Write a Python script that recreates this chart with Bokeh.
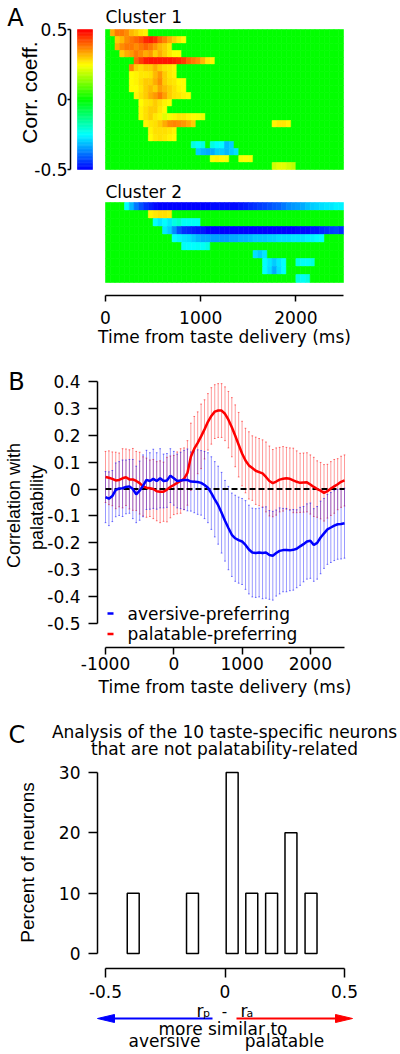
import colorsys
import numpy as np
from bokeh.plotting import figure
from bokeh.layouts import column
from bokeh.models import (Range1d, LinearAxis, FixedTicker, Label, ColumnDataSource,
                          CustomJSTickFormatter)
from bokeh.transform import linear_cmap
from bokeh.embed import file_html
from bokeh.resources import INLINE

# ============================ DATA ============================
# ---- Panel A: correlation-coefficient heat maps (50-ms bins, 0..2500 ms)
HM_T_START, HM_T_END, HM_BIN = 0, 2500, 50
HM_TICKS = [0, 1000, 2000]
CB_TICKS = [-0.5, 0, 0.5]
CLUSTER_TITLES = ["Cluster 1", "Cluster 2"]
# each row: list of (first bin index, [values of consecutive bins]); other bins = 0
cluster1_rows = [
    [(1, [0.33, 0.38, 0.38, 0.36, 0.32, 0.30, 0.27, 0.26])],
    [(2, [0.30, 0.32, 0.36, 0.38, 0.40, 0.42, 0.46, 0.47, 0.45, 0.40, 0.37, 0.33, 0.30, 0.27, 0.25])],
    [(2, [0.33, 0.36, 0.38, 0.38, 0.36, 0.38, 0.40, 0.38, 0.35, 0.32, 0.30, 0.27])],
    [(3, [0.30, 0.33, 0.35, 0.38, 0.36, 0.33, 0.35, 0.30, 0.33, 0.30, 0.27, 0.25, 0.25])],
    [(6, [0.40, 0.44, 0.47, 0.48, 0.48, 0.48, 0.48, 0.48, 0.47, 0.46, 0.44, 0.40, 0.38, 0.36, 0.32, 0.27, 0.26])],
    [(5, [0.37, 0.30, 0.28, 0.30, 0.30, 0.33, 0.30, 0.28, 0.27, 0.26])],
    [(5, [0.25, 0.26, 0.27, 0.27, 0.28, 0.32, 0.35, 0.30, 0.27, 0.26])],
    [(5, [0.25, 0.26, 0.28, 0.30, 0.30, 0.33, 0.36, 0.30, 0.28, 0.27, 0.25, 0.25])],
    [(5, [0.25, 0.25, 0.27, 0.30, 0.32, 0.30, 0.34, 0.32, 0.30, 0.28, 0.26, 0.25])],
    [(6, [0.26, 0.28, 0.30, 0.33, 0.35, 0.38, 0.34, 0.30, 0.28, 0.27, 0.26, 0.25])],
    [(7, [0.25, 0.27, 0.28, 0.30, 0.28, 0.26, 0.25])],
    [(7, [0.26, 0.28, 0.30, 0.30, 0.27, 0.25])],
    [(7, [0.26, 0.28, 0.30, 0.27, 0.26, 0.22, 0.24, 0.26, 0.27, 0.27, 0.26, 0.25, 0.24, 0.23])],
    [(8, [0.26, 0.27, 0.28, 0.30, 0.33, 0.36, 0.37, 0.36, 0.35, 0.33, 0.30]),
     (35, [0.26, 0.27, 0.27, 0.26])],
    [(9, [0.26, 0.28, 0.28, 0.28, 0.27, 0.26])],
    [(9, [0.25, 0.27, 0.28, 0.27, 0.26, 0.25])],
    [(18, [-0.22, -0.25, -0.22]), (22, [-0.22, -0.25, -0.25, -0.32, -0.30])],
    [(19, [-0.30, -0.32, -0.33, -0.33, -0.30, -0.30, -0.32, -0.30, -0.28])],
    [(22, [0.24, 0.26, 0.25, 0.24]), (28, [0.24, 0.25, 0.24])],
    [(35, [0.20, 0.22, 0.22, 0.20, 0.18])],
]
cluster2_rows = [
    [(4, [-0.25, -0.32, -0.38, -0.42, -0.45, -0.47,
          -0.49, -0.50, -0.50, -0.50, -0.50, -0.50, -0.50, -0.50, -0.50, -0.50,
          -0.50, -0.50, -0.49, -0.49, -0.49, -0.49, -0.49, -0.49, -0.48,
          -0.47, -0.46, -0.45, -0.44, -0.43, -0.42, -0.41, -0.40,
          -0.38, -0.36, -0.35, -0.34, -0.33,
          -0.31, -0.30, -0.29, -0.28, -0.27, -0.27, -0.26, -0.26])],
    [(9, [0.26, 0.27, 0.28, 0.28, 0.27])],
    [(10, [-0.25, -0.27, -0.25, -0.27, -0.22, -0.20, -0.24, -0.24, -0.24, -0.24])],
    [(12, [-0.27, -0.30, -0.36, -0.42, -0.45, -0.46, -0.47, -0.48, -0.48,
           -0.50, -0.50, -0.50, -0.50, -0.50, -0.50, -0.50, -0.50, -0.50, -0.50, -0.50, -0.50,
           -0.50, -0.50, -0.50, -0.50, -0.50, -0.50, -0.50, -0.49, -0.49, -0.49, -0.48, -0.48,
           -0.46, -0.45, -0.44, -0.43, -0.45])],
    [(14, [-0.25, -0.26, -0.27, -0.28, -0.30,
           -0.32, -0.33, -0.33, -0.34, -0.34, -0.34, -0.34, -0.33, -0.33, -0.32, -0.32,
           -0.31, -0.30, -0.30, -0.30, -0.29, -0.29, -0.28, -0.28, -0.28, -0.27, -0.27,
           -0.27, -0.26, -0.26, -0.25, -0.25])],
    [(16, [-0.24, -0.25, -0.25, -0.24, -0.24, -0.22])],
    [(31, [-0.28, -0.30, -0.27])],
    [(33, [-0.25, -0.27, -0.30, -0.27, -0.25]), (40, [-0.22, -0.24, -0.24, -0.22])],
    [(33, [-0.25, -0.28, -0.33, -0.28, -0.25])],
    [(40, [-0.22, -0.24, -0.22])],
]

# ---- Panel B: population correlation with palatability (mean +/- error)
b_times = list(range(-1000, 2501, 50))
palatable_mean = [
    0.045, 0.042, 0.038, 0.032, 0.034, 0.040, 0.044, 0.036, 0.036, 0.030,
    0.022, 0.010, 0.005, 0.003, 0.000, -0.008, -0.010, -0.010, -0.002, 0.008,
    0.015, 0.023, 0.030, 0.038, 0.060, 0.120, 0.150, 0.172, 0.196, 0.222,
    0.250, 0.272, 0.288, 0.292, 0.292, 0.280, 0.258, 0.230, 0.198, 0.165,
    0.132, 0.106, 0.088, 0.078, 0.068, 0.063, 0.058, 0.045, 0.030, 0.022,
    0.028, 0.035, 0.038, 0.040, 0.038, 0.032, 0.027, 0.023, 0.024, 0.025,
    0.017, 0.008, 0.000, -0.006, -0.014, -0.008, 0.002, 0.010, 0.018, 0.027,
    0.032]
palatable_err = [
    0.095, 0.10, 0.10, 0.105, 0.10, 0.11, 0.105,
    0.11, 0.115, 0.11, 0.115, 0.11, 0.11, 0.105, 0.11,
    0.11, 0.115, 0.11, 0.12, 0.115, 0.11,
    0.115, 0.12, 0.115, 0.12, 0.125, 0.12, 0.115, 0.12,
    0.11, 0.105, 0.105, 0.10, 0.10, 0.10, 0.10, 0.105,
    0.11, 0.115, 0.12, 0.12, 0.12, 0.125, 0.12, 0.125,
    0.125, 0.125, 0.13, 0.13, 0.125, 0.125, 0.12, 0.12,
    0.115, 0.115, 0.12, 0.115, 0.11, 0.11, 0.11, 0.11,
    0.11, 0.105, 0.105, 0.105, 0.10, 0.10, 0.10, 0.095, 0.095, 0.095]
aversive_mean = [
    -0.030, -0.036, -0.026, -0.003, 0.002, 0.003, 0.008, 0.010, 0.000, -0.020,
    -0.006, 0.012, 0.034, 0.030, 0.038, 0.030, 0.040, 0.030, 0.032, 0.050,
    0.040, 0.030, 0.032, 0.034, 0.034, 0.028, 0.027, 0.026, 0.023, 0.015,
    0.005, -0.015, -0.038, -0.060, -0.088, -0.118, -0.145, -0.170, -0.183, -0.190,
    -0.195, -0.208, -0.225, -0.236, -0.238, -0.236, -0.238, -0.236, -0.245, -0.248,
    -0.238, -0.230, -0.227, -0.227, -0.228, -0.226, -0.222, -0.213, -0.205, -0.195,
    -0.192, -0.208, -0.200, -0.180, -0.165, -0.150, -0.143, -0.136, -0.131, -0.130,
    -0.127]
aversive_err = [
    0.095, 0.10, 0.095, 0.10, 0.10, 0.105, 0.10,
    0.10, 0.11, 0.105, 0.11, 0.115, 0.11, 0.105, 0.11,
    0.105, 0.11, 0.10, 0.10, 0.10, 0.10,
    0.10, 0.105, 0.11, 0.115, 0.11, 0.115, 0.12, 0.12,
    0.125, 0.13, 0.135, 0.14, 0.145, 0.15, 0.15, 0.155,
    0.155, 0.16, 0.16, 0.16, 0.165, 0.165, 0.165, 0.165,
    0.165, 0.17, 0.17, 0.165, 0.165, 0.16, 0.16, 0.155,
    0.155, 0.15, 0.15, 0.145, 0.145, 0.14, 0.14, 0.14,
    0.135, 0.135, 0.135, 0.13, 0.13, 0.13, 0.13, 0.13, 0.13, 0.13]
B_X_TICKS = [-1000, 0, 1000, 2000]
B_Y_TICKS = [-0.5, -0.4, -0.3, -0.2, -0.1, 0, 0.1, 0.2, 0.3, 0.4]
B_X_BOUNDS = (-1000, 2500)
B_Y_BOUNDS = (-0.5, 0.4)
LEGEND_LABELS = ["aversive-preferring", "palatable-preferring"]

# ---- Panel C: histogram of r_p - r_a for 10 non-palatability neurons
c_bin_centers = [-0.384, -0.136, 0.030, 0.112, 0.195, 0.276, 0.360]
c_percent = [10, 10, 30, 10, 10, 20, 10]
C_BAR_WIDTH = 0.05
C_X_TICKS = [-0.5, 0, 0.5]
C_Y_TICKS = [0, 10, 20, 30]
C_TITLE = ["Analysis of the 10 taste-specific neurons",
           "that are not palatability-related"]

# ============================ STYLE / LAYOUT ============================
FONT_H = "DejaVu Sans"
FONT_V = "Liberation Sans"
RED = "#ff0000"
BLUE = "#0000ff"
W = 400

# hue ramp red (high) -> yellow -> green -> cyan -> blue (low)
PALETTE = []
for i in range(256):
    t = i / 255.0
    r, g, b = colorsys.hsv_to_rgb((240.0 - 240.0 * t) / 360.0, 1.0, 1.0)
    PALETTE.append("#%02x%02x%02x" % (int(round(r * 255)), int(round(g * 255)), int(round(b * 255))))

FMT = "return String(tick);"


def style_axis(ax, tick_out, standoff):
    ax.axis_line_width = 1.5
    ax.axis_line_color = "black"
    ax.major_tick_line_width = 1.5
    ax.major_tick_line_color = "black"
    ax.major_tick_in = 0
    ax.major_tick_out = tick_out
    ax.minor_tick_line_color = None
    ax.major_label_standoff = standoff
    ax.major_label_text_font = FONT_H
    ax.major_label_text_font_size = "17px"
    ax.major_label_text_color = "black"
    ax.axis_label_text_font = FONT_H
    ax.axis_label_text_font_size = "17px"
    ax.axis_label_text_font_style = "normal"
    ax.axis_label_text_color = "black"
    ax.formatter = CustomJSTickFormatter(code=FMT)


def base_fig(height, xr, yr, **kw):
    # the frame fills the whole canvas; axes are drawn at fixed locations inside it
    p = figure(width=W, height=height, x_range=xr, y_range=yr,
               output_backend="svg", toolbar_location=None, title=None,
               min_border=0, min_border_left=0, min_border_right=0,
               min_border_top=0, min_border_bottom=0, **kw)
    p.outline_line_color = None
    p.background_fill_color = "white"
    p.border_fill_color = "white"
    p.grid.grid_line_color = None
    try:
        p.frame_align = False
    except Exception:
        pass
    return p


def add_text(p, x, y, text, size="17px", font=FONT_H, align="left",
             baseline="middle", angle=0.0, **kw):
    p.add_layout(Label(x=x, y=y, text=text, text_font=font, text_font_size=size,
                       text_align=align, text_baseline=baseline, angle=angle,
                       text_color="black", **kw))


# ---------------------------- Panel A ----------------------------
A_Y0, A_H = 0, 350
HM_X0, HM_X1 = 105, 343          # pixel columns of 0 ms and 2500 ms
A_AXIS_Y = 295                   # pixel row of the time axis
C_ROWS_PX = [(29, 169), (202, 282)]
CB_L, CB_R, CB_T, CB_B = 77, 92, 29, 169
CB_AXIS_X = 70


def xa(px):
    return HM_T_START + (px - HM_X0) * (HM_T_END - HM_T_START) / (HM_X1 - HM_X0)


def ya(py):
    return -py


def ycb(py):
    return CB_TICKS[-1] - (py - CB_T) * (CB_TICKS[-1] - CB_TICKS[0]) / (CB_B - CB_T)


pA = base_fig(A_H, Range1d(xa(0), xa(W)), Range1d(ya(A_Y0 + A_H), ya(A_Y0)), y_axis_type=None)
pA.extra_y_ranges = {"cb": Range1d(ycb(A_Y0 + A_H), ycb(A_Y0))}

n_bins = (HM_T_END - HM_T_START) // HM_BIN
cells = dict(left=[], right=[], top=[], bottom=[], v=[])
for rows, (ptop, pbot) in zip([cluster1_rows, cluster2_rows], C_ROWS_PX):
    rh = (pbot - ptop) / len(rows)
    for r, segs in enumerate(rows):
        vals = np.zeros(n_bins)
        for c0, seg in segs:
            vals[c0:c0 + len(seg)] = seg
        for c in range(n_bins):
            cells["left"].append(HM_T_START + c * HM_BIN)
            cells["right"].append(HM_T_START + (c + 1) * HM_BIN)
            cells["top"].append(ya(ptop + r * rh))
            cells["bottom"].append(ya(ptop + (r + 1) * rh))
            cells["v"].append(float(vals[c]))
cmap = linear_cmap("v", PALETTE, CB_TICKS[0], CB_TICKS[-1])
pA.quad(left="left", right="right", top="top", bottom="bottom", source=ColumnDataSource(cells),
        fill_color=cmap, line_color=cmap, line_width=0.6)

# colour bar
cb_edges = np.linspace(CB_TICKS[0], CB_TICKS[-1], 101)
cb_src = ColumnDataSource(dict(bottom=cb_edges[:-1], top=cb_edges[1:],
                               v=(cb_edges[:-1] + cb_edges[1:]) / 2))
pA.quad(left=xa(CB_L), right=xa(CB_R), bottom="bottom", top="top", source=cb_src,
        fill_color=cmap, line_color=cmap, line_width=0.6, y_range_name="cb")
cb_axis = LinearAxis(y_range_name="cb", bounds=(CB_TICKS[0], CB_TICKS[-1]),
                     ticker=FixedTicker(ticks=CB_TICKS), fixed_location=xa(CB_AXIS_X))
style_axis(cb_axis, 3, 0)
pA.add_layout(cb_axis, "left")

style_axis(pA.xaxis[0], 6, 9)
pA.xaxis.fixed_location = ya(A_AXIS_Y)
pA.xaxis.bounds = (HM_T_START, HM_T_END)
pA.xaxis.ticker = FixedTicker(ticks=HM_TICKS)
pA.xaxis.axis_label = "Time from taste delivery (ms)"
pA.xaxis.axis_label_standoff = 0

add_text(pA, HM_T_START, ya(16), CLUSTER_TITLES[0])
add_text(pA, HM_T_START, ya(191), CLUSTER_TITLES[1])
add_text(pA, xa(15), ya(17), "A", size="24px", align="center")
add_text(pA, xa(29), ya(92), "Corr. coeff.", size="21px", font=FONT_V,
         align="center", angle=np.pi / 2)

# ---------------------------- Panel B ----------------------------
B_Y0, B_H = A_Y0 + A_H, 350
BX0, BX1 = 105, 344              # pixel columns of -1000 and 2500 ms
BY_TOP, BY_BOT = 381, 623        # pixel rows of 0.4 and -0.5
B_AXIS_X, B_AXIS_Y = 97, 647


def xb(px):
    return B_X_BOUNDS[0] + (px - BX0) * (B_X_BOUNDS[1] - B_X_BOUNDS[0]) / (BX1 - BX0)


def yb(py):
    return B_Y_BOUNDS[1] - (py - BY_TOP) * (B_Y_BOUNDS[1] - B_Y_BOUNDS[0]) / (BY_BOT - BY_TOP)


pB = base_fig(B_H, Range1d(xb(0), xb(W)), Range1d(yb(B_Y0 + B_H), yb(B_Y0)))
style_axis(pB.xaxis[0], 7, 2)
style_axis(pB.yaxis[0], 9, 8)
pB.xaxis.fixed_location = yb(B_AXIS_Y)
pB.yaxis.fixed_location = xb(B_AXIS_X)
pB.xaxis.bounds = B_X_BOUNDS
pB.yaxis.bounds = B_Y_BOUNDS
pB.xaxis.ticker = FixedTicker(ticks=B_X_TICKS)
pB.yaxis.ticker = FixedTicker(ticks=B_Y_TICKS)
pB.xaxis.axis_label = "Time from taste delivery (ms)"
pB.xaxis.axis_label_standoff = 4

pm, pe = np.array(palatable_mean), np.array(palatable_err)
am, ae = np.array(aversive_mean), np.array(aversive_err)
bt = np.array(b_times, dtype=float)
CAP = 12  # half cap width in ms
for m, e, col in [(pm, pe, RED), (am, ae, BLUE)]:
    pB.segment(x0=bt, x1=bt, y0=m - e, y1=m + e, line_color=col, line_alpha=0.4, line_width=1)
    for yy in (m - e, m + e):
        pB.segment(x0=bt - CAP, x1=bt + CAP, y0=yy, y1=yy, line_color=col,
                   line_alpha=0.55, line_width=1)
pB.line(x=list(B_X_BOUNDS), y=[0, 0], line_color="black", line_width=2, line_dash="6 3")
pB.line(x=b_times, y=palatable_mean, line_color=RED, line_width=2.5)
pB.line(x=b_times, y=aversive_mean, line_color=BLUE, line_width=2.5)

# legend
for lab, col, py in zip(LEGEND_LABELS, [BLUE, RED], [613, 633.5]):
    pB.line(x=[xb(107), xb(113)], y=[yb(py), yb(py)], line_color=col, line_width=2.5)
    add_text(pB, xb(127), yb(py), lab)

add_text(pB, xb(16), yb(381.5), "B", size="24px", align="center")
add_text(pB, xb(13), yb(505), "Correlation with", size="18px", font=FONT_V,
         align="center", angle=np.pi / 2)
add_text(pB, xb(36), yb(507), "palatability", size="18px", font=FONT_V,
         align="center", angle=np.pi / 2)

# ---------------------------- Panel C ----------------------------
C_Y0, C_H = B_Y0 + B_H, 352
CX0, CX1 = 105, 344              # pixel columns of -0.5 and 0.5
CY0, CY30 = 953, 772             # pixel rows of 0 % and 30 %
C_AXIS_X, C_AXIS_Y = 97, 968


def xc(px):
    return C_X_TICKS[0] + (px - CX0) * (C_X_TICKS[-1] - C_X_TICKS[0]) / (CX1 - CX0)


def yc(py):
    return C_Y_TICKS[0] + (CY0 - py) * (C_Y_TICKS[-1] - C_Y_TICKS[0]) / (CY0 - CY30)


pC = base_fig(C_H, Range1d(xc(0), xc(W)), Range1d(yc(C_Y0 + C_H), yc(C_Y0)))
style_axis(pC.xaxis[0], 9, 7)
style_axis(pC.yaxis[0], 9, 8)
pC.xaxis.fixed_location = yc(C_AXIS_Y)
pC.yaxis.fixed_location = xc(C_AXIS_X)
pC.xaxis.bounds = (C_X_TICKS[0], C_X_TICKS[-1])
pC.yaxis.bounds = (C_Y_TICKS[0], C_Y_TICKS[-1])
pC.xaxis.ticker = FixedTicker(ticks=C_X_TICKS)
pC.yaxis.ticker = FixedTicker(ticks=C_Y_TICKS)

pC.vbar(x=c_bin_centers, top=c_percent, bottom=0, width=C_BAR_WIDTH,
        fill_color="white", line_color="black", line_width=1.5)

add_text(pC, xc(224), yc(731.5), C_TITLE[0], size="17px", align="center")
add_text(pC, xc(224), yc(748.5), C_TITLE[1], size="17px", align="center")
add_text(pC, xc(16.5), yc(734), "C", size="24px", align="center")
add_text(pC, xc(27), yc(862), "Percent of neurons", size="19px", font=FONT_V,
         align="center", angle=np.pi / 2)

# r_p - r_a annotation with direction arrows
AY = 1018
pC.line(x=[xc(212), xc(110)], y=[yc(AY), yc(AY)], line_color=BLUE, line_width=2)
pC.patch(x=[xc(97), xc(114), xc(114)], y=[yc(AY), yc(AY - 4), yc(AY + 4)],
         fill_color=BLUE, line_color=BLUE)
pC.line(x=[xc(236), xc(338)], y=[yc(AY), yc(AY)], line_color=RED, line_width=2)
pC.patch(x=[xc(352), xc(335), xc(335)], y=[yc(AY), yc(AY - 4), yc(AY + 4)],
         fill_color=RED, line_color=RED)

add_text(pC, xc(196), yc(1010), "r", size="17px")
add_text(pC, xc(202.5), yc(1013), "p", size="11px")
add_text(pC, xc(224), yc(1010), "-", size="15px", align="center")
add_text(pC, xc(240), yc(1010), "r", size="17px")
add_text(pC, xc(246), yc(1012.5), "a", size="11px")
add_text(pC, xc(222.5), yc(1028), "more similar to", size="17px", align="center")
add_text(pC, xc(164), yc(1040.5), "aversive", size="17px", align="center")
add_text(pC, xc(284), yc(1040.5), "palatable", size="17px", align="center")

layout = column(pA, pB, pC, spacing=0)
open("out.html", "w").write(file_html(layout, INLINE, "Figure"))
